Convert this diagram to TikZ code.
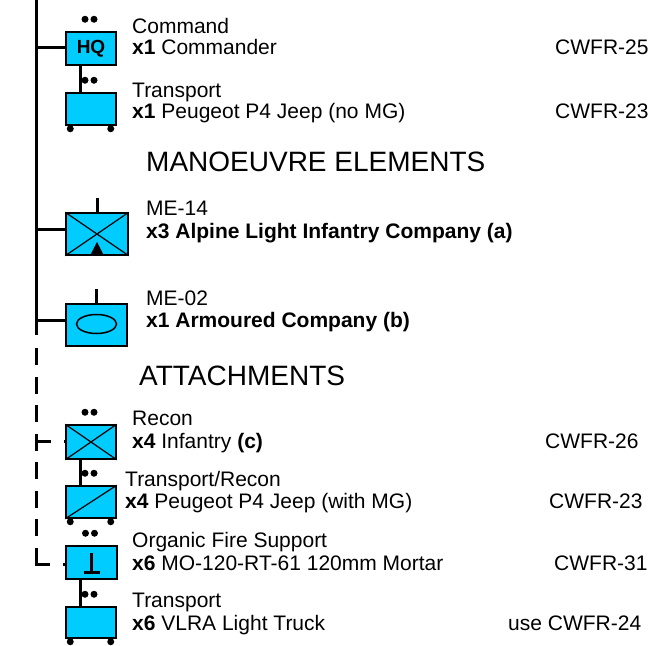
\documentclass[tikz,border=0pt]{standalone}
\usepackage{fontspec}
\setmainfont{Liberation Sans}
\usetikzlibrary{positioning}
\definecolor{unitblue}{RGB}{0,204,255}

\begin{document}
\begin{tikzpicture}[x=1pt,y=-1pt,
    unit/.style={draw, line width=1.5pt, fill=unitblue, inner sep=0pt,
                 minimum width=50pt, minimum height=33pt},
    wide/.style={unit, minimum width=61pt, minimum height=42pt},
    link/.style={line width=3pt},
    dlink/.style={line width=3pt, dash pattern=on 17pt off 11.5pt},
    hlink/.style={line width=3pt, dash pattern=on 15pt off 13pt},
    sym/.style={line width=1.2pt},
    pip/.style={circle, fill, inner sep=0pt, minimum size=7pt},
    lbl/.style={anchor=base west, inner sep=0pt, font=\fontsize{21}{25}\selectfont},
    head/.style={anchor=base west, inner sep=0pt, font=\fontsize{28}{33}\selectfont}]
      \useasboundingbox (0,0) rectangle (650,645);

      %% HQ and its transport
      \node[unit, font=\fontsize{19}{22}\selectfont\bfseries] (hq)  at (91,48.5) {HQ};
      \node[unit, minimum height=32pt]                         (tr1) at (91,109)  {};

      \node[pip] at ([xshift=-6pt,yshift=12pt]hq.north)  {};
      \node[pip] at ([xshift=3pt,yshift=12pt]hq.north)   {};
      \node[pip] at ([xshift=-6pt,yshift=12pt]tr1.north) {};
      \node[pip] at ([xshift=3pt,yshift=12pt]tr1.north)  {};
      \node[pip] at ([xshift=5pt,yshift=-3pt]tr1.south west)  {};
      \node[pip] at ([xshift=-6pt,yshift=-3pt]tr1.south east) {};

      \draw[link] ([xshift=15pt]hq.south west) -- ([xshift=15pt]tr1.north west);

      \node[lbl] (cmd)   at (132,33)  {Command};
      \node[lbl] (cmd2)  at (132,54)  {\textbf{x1} Commander};
      \node[lbl] (cmd3)  at (555,54)  {CWFR-25};
      \node[lbl] (tra)   at (132,97)  {Transport};
      \node[lbl] (tra2)  at (132,118) {\textbf{x1} Peugeot P4 Jeep (no MG)};
      \node[lbl] (tra3)  at (555,118) {CWFR-23};

      %%%%%%%%%%%%%%%%%%%%%%%%%%%%%%%%%%%%%%%%%%%%%%%%%%%%%%%%%%%
      %% Manoeuvre elements
      %%%%%%%%%%%%%%%%%%%%%%%%%%%%%%%%%%%%%%%%%%%%%%%%%%%%%%%%%%%
      \node[head] (man) at (146,171) {MANOEUVRE ELEMENTS};

      \node[wide, minimum width=62pt] (me14) at (97,234)   {};
      \node[wide]                     (me02) at (96.5,325) {};

      \draw[sym] (me14.south west) -- (me14.north east)
                 (me14.north west) -- (me14.south east);
      \fill ([xshift=-7pt]me14.south) -- ([xshift=7pt]me14.south)
            -- ([yshift=14pt]me14.south) -- cycle;
      \draw[line width=1.5pt] ([yshift=1pt]me02.center) ellipse (20pt and 9.5pt);

      \draw[link] (me14.north) -- ([yshift=14pt]me14.north);
      \draw[link] (me02.north) -- ([yshift=14pt]me02.north);

      \node[lbl] (me14a) at (146,215) {ME-14};
      \node[lbl] (me14b) at (146,238) {\textbf{x3 Alpine Light Infantry Company (a)}};
      \node[lbl] (me02a) at (146,305) {ME-02};
      \node[lbl] (me02b) at (146,327) {\textbf{x1 Armoured Company (b)}};

      %%%%%%%%%%%%%%%%%%%%%%%%%%%%%%%%%%%%%%%%%%%%%%%%%%%%%%%%%%%
      %% Attachments
      %%%%%%%%%%%%%%%%%%%%%%%%%%%%%%%%%%%%%%%%%%%%%%%%%%%%%%%%%%%
      \node[head] (att) at (139,385) {ATTACHMENTS};

      \node[unit, minimum height=34pt]                    (rec)  at (91,442)    {};
      \node[unit, minimum height=32pt]                    (jeep) at (91,502)    {};
      \node[unit, minimum width=51pt]                     (mor)  at (91.5,562.5) {};
      \node[unit, minimum height=31pt]                    (trk)  at (91,622.5)  {};

      \draw[sym] (rec.south west) -- (rec.north east)
                 (rec.north west) -- (rec.south east);
      \draw[sym] (jeep.south west) -- (jeep.north east);
      \draw[line width=2.5pt] ([yshift=10pt]mor.center) -- ([yshift=-10pt]mor.center)
                              ++(-8pt,0) -- ++(16pt,0);

      \foreach \u in {rec,jeep,mor,trk} {
        \node[pip] at ([xshift=-6pt,yshift=12pt]\u.north) {};
        \node[pip] at ([xshift=3pt,yshift=12pt]\u.north)  {};
      }
      \foreach \u in {jeep,trk} {
        \node[pip] at ([xshift=5pt,yshift=-3pt]\u.south west)  {};
        \node[pip] at ([xshift=-6pt,yshift=-3pt]\u.south east) {};
      }

      \draw[link] ([xshift=15pt]rec.south west) -- ([xshift=15pt]jeep.north west);
      \draw[link] ([xshift=15pt]mor.south west) -- ([xshift=15pt]trk.north west);

      \node[lbl] (reca)  at (132,425) {Recon};
      \node[lbl] (recb)  at (132,448) {\textbf{x4} Infantry \textbf{(c)}};
      \node[lbl] (recc)  at (545,448) {CWFR-26};
      \node[lbl] (jeepa) at (125,486) {Transport/Recon};
      \node[lbl] (jeepb) at (125,508) {\textbf{x4} Peugeot P4 Jeep (with MG)};
      \node[lbl] (jeepc) at (549,508) {CWFR-23};
      \node[lbl] (mora)  at (132,547) {Organic Fire Support};
      \node[lbl] (morb)  at (132,570) {\textbf{x6} MO-120-RT-61 120mm Mortar};
      \node[lbl] (morc)  at (554,570) {CWFR-31};
      \node[lbl] (trka)  at (132,607) {Transport};
      \node[lbl] (trkb)  at (132,630) {\textbf{x6} VLRA Light Truck};
      \node[lbl] (trkc)  at (508,630) {use CWFR-24};

      %%%%%%%%%%%%%%%%%%%%%%%%%%%%%%%%%%%%%%%%%%%%%%%%%%%%%%%%%%%
      %% Trunk line
      \coordinate (top)  at (36,-5);
      \coordinate (end)  at (36,335);
      \coordinate (dtop) at (36,348);
      \coordinate (dend) at (36,564.5);
      \coordinate (bhq)  at (36,47);
      \coordinate (b14)  at (36,229);
      \coordinate (b02)  at (36,320);
      \coordinate (brec) at (36,441);

      \draw[link]  (top) -- (end);
      \draw[link]  (bhq) -- (bhq -| hq.west);
      \draw[link]  (b14) -- (b14 -| me14.west);
      \draw[link]  (b02) -- (b02 -| me02.west);
      \draw[dlink] (dend) -- (dtop);
      \draw[hlink] (brec) -- (brec -| rec.west);
      \draw[hlink] ([xshift=-1.5pt]dend) -- (dend -| mor.west);
\end{tikzpicture}
\end{document}
